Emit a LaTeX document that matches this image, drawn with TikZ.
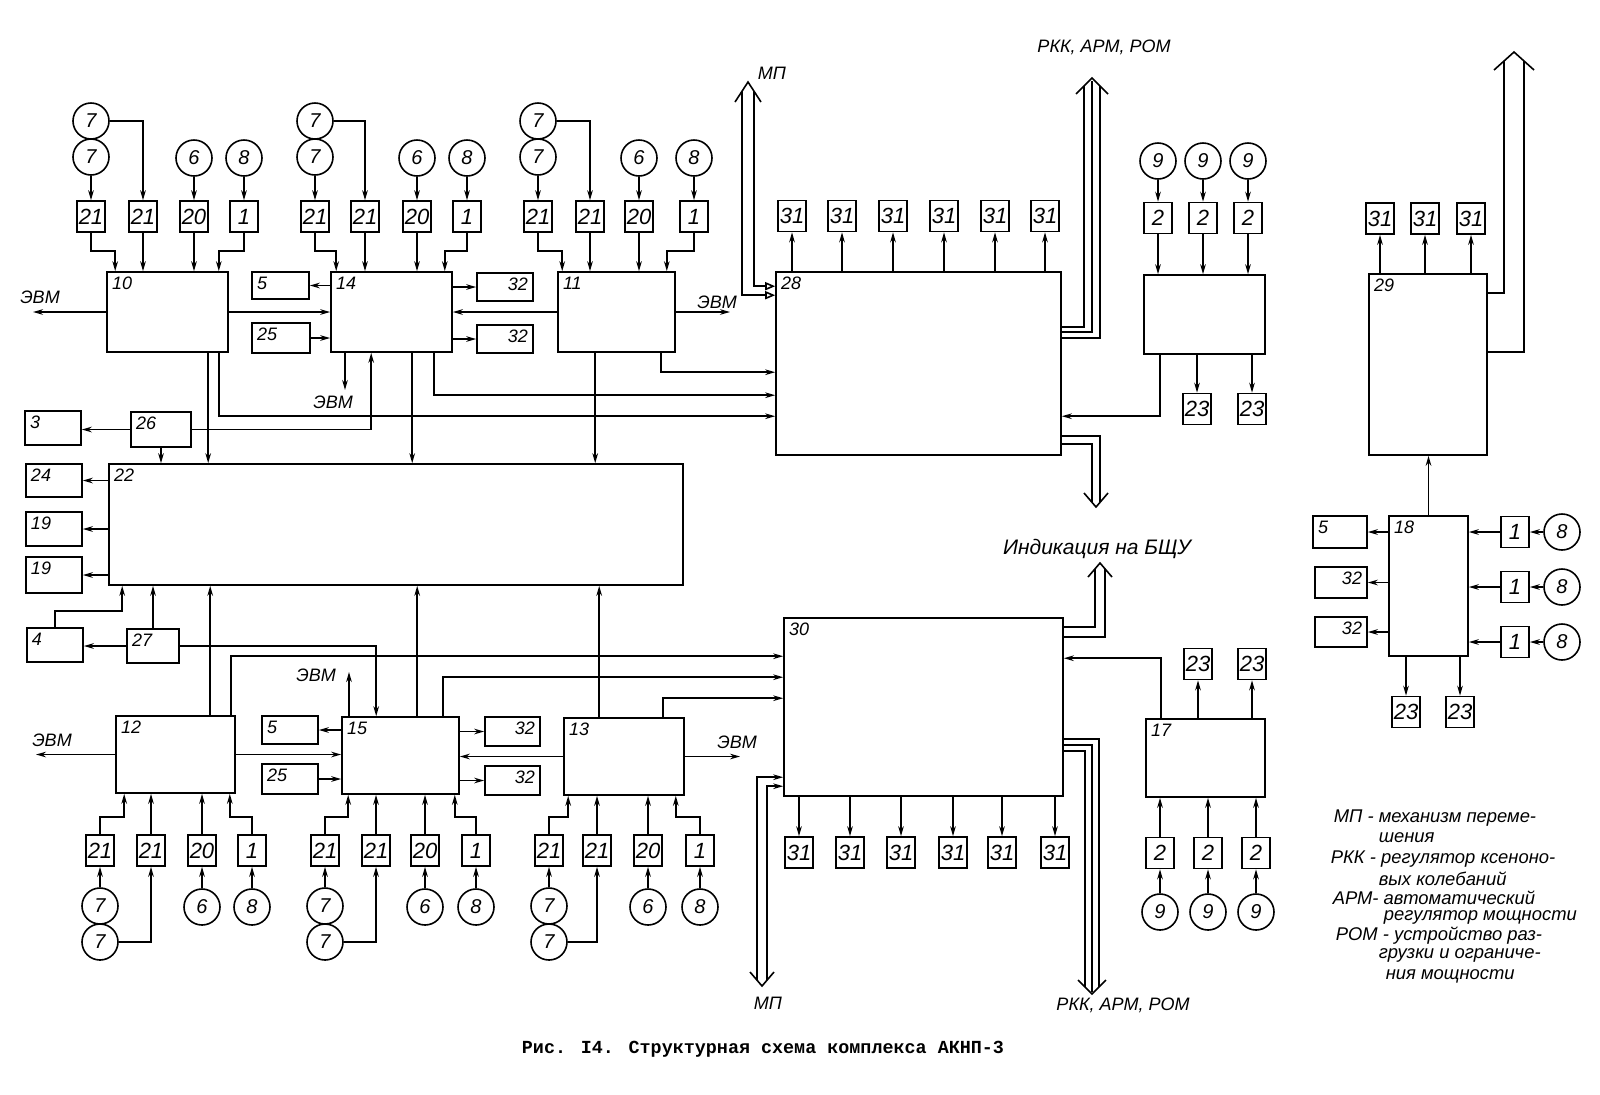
\documentclass[tikz,border=0pt]{standalone}
\usepackage{fontspec}
\setmainfont{Liberation Sans}
\newfontfamily\typefont{Liberation Mono}
\usetikzlibrary{positioning}
\usetikzlibrary{calc}
\usetikzlibrary{arrows.meta}

\tikzset{
	blk/.style={rectangle,draw,inner sep=0pt},
	sz/.style 2 args={minimum width=#1*0.5pt,minimum height=#2*0.5pt},
	lnum/.style={font=\itshape\fontsize{9}{9}\selectfont,inner sep=2.5pt},
	tl/.style={label={[lnum,anchor=north west]north west:#1}},
	tr/.style={label={[lnum,anchor=north east]north east:#1}},
	sbox/.style={rectangle,draw,inner sep=0pt,minimum width=14pt,minimum height=15.5pt,font=\itshape\fontsize{11}{11}\selectfont},
	circ/.style={circle,draw,inner sep=0pt,minimum size=18pt,font=\itshape\fontsize{10}{10}\selectfont},
	lbl/.style={font=\itshape\fontsize{9}{9}\selectfont,inner sep=0pt},
	note/.style={font=\itshape\fontsize{9.2}{9.2}\selectfont,inner sep=0pt,anchor=west}
}

\begin{document}
\begin{tikzpicture}[x=0.5pt,y=-0.5pt,line width=0.8pt,>={Stealth[length=5pt,width=2.8pt]}]
	\useasboundingbox (0,0) rectangle (1600,1094);

	% big blocks
	\node[blk,sz={121}{80},tl=10] (b10) at (167.5,312) {};
	\node[blk,sz={121}{80},tl=14] (b14) at (391.5,312) {};
	\node[blk,sz={117}{80},tl=11] (b11) at (616.5,312) {};
	\node[blk,sz={285}{183},tl=28] (b28) at (918.5,363.5) {};
	\node[blk,sz={121}{79}] (bm) at (1204.5,314.5) {};
	\node[blk,sz={118}{181},tl=29] (b29) at (1428,364.5) {};
	\node[blk,sz={574}{121},tl=22] (b22) at (396,524.5) {};
	\node[blk,sz={119}{77},tl=12] (b12) at (175.5,754.5) {};
	\node[blk,sz={117}{77},tl=15] (b15) at (400.5,755.5) {};
	\node[blk,sz={120}{77},tl=13] (b13) at (624,756.5) {};
	\node[blk,sz={279}{178},tl=30] (b30) at (923.5,707) {};
	\node[blk,sz={119}{78},tl=17] (b17) at (1205.5,758) {};
	\node[blk,sz={79}{140},tl=18] (b18) at (1428.5,586) {};

	% side boxes
	\node[blk,sz={57}{27},tl=5] (a5) at (280.5,285.5) {};
	\node[blk,sz={58}{30},tl=25] (a25) at (281,338) {};
	\node[blk,sz={56}{28},tr=32] (a32) at (505,287) {};
	\node[blk,sz={56}{28},tr=32] (a32b) at (505,339) {};
	\node[blk,sz={56}{34},tl=3] (a3) at (53,428) {};
	\node[blk,sz={60}{35},tl=26] (a26) at (161,429.5) {};
	\node[blk,sz={56}{33},tl=24] (a24) at (54,480.5) {};
	\node[blk,sz={56}{34},tl=19] (a19) at (54,529) {};
	\node[blk,sz={56}{36},tl=19] (a19b) at (54,575) {};
	\node[blk,sz={56}{34},tl=4] (a4) at (55,645) {};
	\node[blk,sz={52}{34},tl=27] (a27) at (153,646) {};
	\node[blk,sz={56}{28},tl=5] (c5) at (290,730) {};
	\node[blk,sz={56}{30},tl=25] (c25) at (290,779) {};
	\node[blk,sz={55}{29},tr=32] (c32) at (512.5,731.5) {};
	\node[blk,sz={55}{29},tr=32] (c32b) at (512.5,780.5) {};
	\node[blk,sz={54}{32},tl=5] (d5) at (1340,532) {};
	\node[blk,sz={52}{31},tr=32] (d32) at (1341,582.5) {};
	\node[blk,sz={52}{30},tr=32] (d32b) at (1341,632) {};

	% group 10
	\node[circ] (s10a) at (91,121) {7};
	\node[circ] (s10b) at (91,157) {7};
	\node[circ] (s10c) at (194,158) {6};
	\node[circ] (s10d) at (244,158) {8};
	\node[sbox] (k10a) at (91,216.5) {21};
	\node[sbox] (k10b) at (143,216.5) {21};
	\node[sbox] (k10c) at (194,216.5) {20};
	\node[sbox] (k10d) at (244,216.5) {1};
	\draw[->] (s10b) -- (k10a);
	\draw[->] (s10a.east) -| (k10b);
	\draw[->] (s10c) -- (k10c);
	\draw[->] (s10d) -- (k10d);
	\draw[->] (k10a.south) -- ++(0,18) -| ($(b10.north west)+(9,0)$);
	\draw[->] (k10b) -- (k10b |- b10.north);
	\draw[->] (k10c) -- (k10c |- b10.north);
	\draw[->] (k10d.south) -- ++(0,18) -| ($(b10.north east)+(-10,0)$);

	% group 14
	\node[circ] (s14a) at (315,121) {7};
	\node[circ] (s14b) at (315,157) {7};
	\node[circ] (s14c) at (417,158) {6};
	\node[circ] (s14d) at (467,158) {8};
	\node[sbox] (k14a) at (315,216.5) {21};
	\node[sbox] (k14b) at (365,216.5) {21};
	\node[sbox] (k14c) at (417,216.5) {20};
	\node[sbox] (k14d) at (467,216.5) {1};
	\draw[->] (s14b) -- (k14a);
	\draw[->] (s14a.east) -| (k14b);
	\draw[->] (s14c) -- (k14c);
	\draw[->] (s14d) -- (k14d);
	\draw[->] (k14a.south) -- ++(0,18) -| ($(b14.north west)+(6,0)$);
	\draw[->] (k14b) -- (k14b |- b14.north);
	\draw[->] (k14c) -- (k14c |- b14.north);
	\draw[->] (k14d.south) -- ++(0,18) -| ($(b14.north east)+(-8,0)$);

	% group 11
	\node[circ] (s11a) at (538,121) {7};
	\node[circ] (s11b) at (538,157) {7};
	\node[circ] (s11c) at (639,158) {6};
	\node[circ] (s11d) at (694,158) {8};
	\node[sbox] (k11a) at (538,216.5) {21};
	\node[sbox] (k11b) at (590,216.5) {21};
	\node[sbox] (k11c) at (639,216.5) {20};
	\node[sbox] (k11d) at (694,216.5) {1};
	\draw[->] (s11b) -- (k11a);
	\draw[->] (s11a.east) -| (k11b);
	\draw[->] (s11c) -- (k11c);
	\draw[->] (s11d) -- (k11d);
	\draw[->] (k11a.south) -- ++(0,18) -| ($(b11.north west)+(5,0)$);
	\draw[->] (k11b) -- (k11b |- b11.north);
	\draw[->] (k11c) -- (k11c |- b11.north);
	\draw[->] (k11d.south) -- ++(0,18) -| ($(b11.north east)+(-9,0)$);

	% links of the upper row
	\draw[->] (b10.east) -- (b10.east -| b14.west);
	\draw[->] (b11.west) -- (b11.west -| b14.east);
	\draw[->] (b14.west |- a5) -- (a5.east);
	\draw[->] (a25.east) -- (a25.east -| b14.west);
	\draw[->] (b14.east |- a32) -- (a32.west);
	\draw[->] (b14.east |- a32b) -- (a32b.west);
	\coordinate (e10) at (33,312);
	\coordinate (e11) at (730,312);
	\coordinate (e14) at (345,390);
	\draw[->] (b10.west) -- (e10);
	\draw[->] (b11.east) -- (e11);
	\draw[->] (e14 |- b14.south) -- (e14);
	\node[lbl] (v10) at (40,297) {ЭВМ};
	\node[lbl] (v11) at (717,302) {ЭВМ};
	\node[lbl] (v14) at (333,402) {ЭВМ};

	\draw[->] ($(b10.south west)+(102,0)$) coordinate (p) -- (p |- b22.north);
	\draw[->] ($(b14.south west)+(82,0)$) coordinate (p) -- (p |- b22.north);
	\draw[->] ($(b11.south west)+(38,0)$) coordinate (p) -- (p |- b22.north);
	\draw[->] (a26) -- (a26 |- b22.north);
	\draw[->] (a26.west) -- (a26.west -| a3.east);
	\draw[->] (a26.east) -| ($(b14.south west)+(41,0)$);
	\draw[->] ($(b10.south west)+(113,0)$) |- ($(b28.north west)+(0,145)$);
	\draw[->] ($(b14.south west)+(104,0)$) |- ($(b28.north west)+(0,124)$);
	\draw[->] ($(b11.south west)+(104,0)$) |- ($(b28.north west)+(0,101)$);

	% around 22
	\draw[->] (b22.west |- a24) -- (a24.east);
	\draw[->] (b22.west |- a19) -- (a19.east);
	\draw[->] (b22.west |- a19b) -- (a19b.east);
	\draw[->] (a4.north) -- ++(0,-16) -| ($(b22.south west)+(14,0)$);
	\draw[->] (a27) -- (a27 |- b22.south);
	\draw[->] (a27.west) -- (a27.west -| a4.east);
	\draw[->] (a27.east) -| ($(b15.north west)+(35,0)$);

	% links of the lower row
	\draw[->] ($(b12.north west)+(95,0)$) coordinate (p) -- (p |- b22.south);
	\draw[->] ($(b15.north west)+(76,0)$) coordinate (p) -- (p |- b22.south);
	\draw[->] ($(b13.north west)+(36,0)$) coordinate (p) -- (p |- b22.south);
	\draw[->] ($(b12.north west)+(116,0)$) |- ($(b30.north west)+(0,39)$);
	\draw[->] ($(b15.north west)+(102,0)$) |- ($(b30.north west)+(0,60)$);
	\draw[->] ($(b13.north west)+(100,0)$) |- ($(b30.north west)+(0,81)$);
	\coordinate (e12) at (36,754.5);
	\coordinate (e15) at (349,672);
	\coordinate (e13) at (740,756.5);
	\draw[->] (b12.west) -- (e12);
	\draw[->] (e15 |- b15.north) -- (e15);
	\draw[->] (b13.east) -- (e13);
	\node[lbl] (v12) at (52,740) {ЭВМ};
	\node[lbl] (v15) at (316,675) {ЭВМ};
	\node[lbl] (v13) at (737,742) {ЭВМ};
	\draw[->] (b12.east) -- (b12.east -| b15.west);
	\draw[->] (b13.west) -- (b13.west -| b15.east);
	\draw[->] (b15.west |- c5) -- (c5.east);
	\draw[->] (c25.east) -- (c25.east -| b15.west);
	\draw[->] (b15.east |- c32) -- (c32.west);
	\draw[->] (b15.east |- c32b) -- (c32b.west);

	% group 12
	\node[circ] (t12a) at (100,906) {7};
	\node[circ] (t12b) at (100,942) {7};
	\node[circ] (t12c) at (202,907) {6};
	\node[circ] (t12d) at (252,907) {8};
	\node[sbox] (m12a) at (100,850.5) {21};
	\node[sbox] (m12b) at (151,850.5) {21};
	\node[sbox] (m12c) at (202,850.5) {20};
	\node[sbox] (m12d) at (252,850.5) {1};
	\draw[->] (t12a) -- (m12a);
	\draw[->] (t12b.east) -| (m12b);
	\draw[->] (t12c) -- (m12c);
	\draw[->] (t12d) -- (m12d);
	\draw[->] (m12a.north) -- ++(0,-17) -| ($(b12.south west)+(9,0)$);
	\draw[->] (m12b) -- (m12b |- b12.south);
	\draw[->] (m12c) -- (m12c |- b12.south);
	\draw[->] (m12d.north) -- ++(0,-17) -| ($(b12.south east)+(-6,0)$);

	% group 15
	\node[circ] (t15a) at (325,906) {7};
	\node[circ] (t15b) at (325,942) {7};
	\node[circ] (t15c) at (425,907) {6};
	\node[circ] (t15d) at (476,907) {8};
	\node[sbox] (m15a) at (325,850.5) {21};
	\node[sbox] (m15b) at (376,850.5) {21};
	\node[sbox] (m15c) at (425,850.5) {20};
	\node[sbox] (m15d) at (476,850.5) {1};
	\draw[->] (t15a) -- (m15a);
	\draw[->] (t15b.east) -| (m15b);
	\draw[->] (t15c) -- (m15c);
	\draw[->] (t15d) -- (m15d);
	\draw[->] (m15a.north) -- ++(0,-17) -| ($(b15.south west)+(7,0)$);
	\draw[->] (m15b) -- (m15b |- b15.south);
	\draw[->] (m15c) -- (m15c |- b15.south);
	\draw[->] (m15d.north) -- ++(0,-17) -| ($(b15.south east)+(-5,0)$);

	% group 13
	\node[circ] (t13a) at (549,906) {7};
	\node[circ] (t13b) at (549,942) {7};
	\node[circ] (t13c) at (648,907) {6};
	\node[circ] (t13d) at (700,907) {8};
	\node[sbox] (m13a) at (549,850.5) {21};
	\node[sbox] (m13b) at (597,850.5) {21};
	\node[sbox] (m13c) at (648,850.5) {20};
	\node[sbox] (m13d) at (700,850.5) {1};
	\draw[->] (t13a) -- (m13a);
	\draw[->] (t13b.east) -| (m13b);
	\draw[->] (t13c) -- (m13c);
	\draw[->] (t13d) -- (m13d);
	\draw[->] (m13a.north) -- ++(0,-17) -| ($(b13.south west)+(5,0)$);
	\draw[->] (m13b) -- (m13b |- b13.south);
	\draw[->] (m13c) -- (m13c |- b13.south);
	\draw[->] (m13d.north) -- ++(0,-17) -| ($(b13.south east)+(-9,0)$);

	% 31 over 28
	\node[sbox] (u1) at (792,216) {31};
	\node[sbox] (u2) at (842,216) {31};
	\node[sbox] (u3) at (893,216) {31};
	\node[sbox] (u4) at (944,216) {31};
	\node[sbox] (u5) at (995,216) {31};
	\node[sbox] (u6) at (1045,216) {31};
	\draw[->] (u1 |- b28.north) -- (u1);
	\draw[->] (u2 |- b28.north) -- (u2);
	\draw[->] (u3 |- b28.north) -- (u3);
	\draw[->] (u4 |- b28.north) -- (u4);
	\draw[->] (u5 |- b28.north) -- (u5);
	\draw[->] (u6 |- b28.north) -- (u6);

	% 9 - 2 - block - 23
	\node[circ] (n1) at (1158,161) {9};
	\node[circ] (n2) at (1203,161) {9};
	\node[circ] (n3) at (1248,161) {9};
	\node[sbox] (q1) at (1158,218) {2};
	\node[sbox] (q2) at (1203,218) {2};
	\node[sbox] (q3) at (1248,218) {2};
	\node[sbox] (r1) at (1197,409) {23};
	\node[sbox] (r2) at (1252,409) {23};
	\draw[->] (n1) -- (q1);
	\draw[->] (n2) -- (q2);
	\draw[->] (n3) -- (q3);
	\draw[->] (q1) -- (q1 |- bm.north);
	\draw[->] (q2) -- (q2 |- bm.north);
	\draw[->] (q3) -- (q3 |- bm.north);
	\draw[->] (r1 |- bm.south) -- (r1);
	\draw[->] (r2 |- bm.south) -- (r2);
	\draw[->] ($(bm.south west)+(17,0)$) |- ($(b28.north east)+(0,145)$);

	% 29 and 18
	\node[sbox] (w1) at (1380,218.5) {31};
	\node[sbox] (w2) at (1425,218.5) {31};
	\node[sbox] (w3) at (1471,218.5) {31};
	\draw[->] (w1 |- b29.north) -- (w1);
	\draw[->] (w2 |- b29.north) -- (w2);
	\draw[->] (w3 |- b29.north) -- (w3);
	\draw[->] (b18.north) -- (b18.north |- b29.south);
	\node[circ] (o1) at (1562,532) {8};
	\node[circ] (o2) at (1562,587) {8};
	\node[circ] (o3) at (1562,642) {8};
	\node[sbox] (h1) at (1515,532) {1};
	\node[sbox] (h2) at (1515,587) {1};
	\node[sbox] (h3) at (1515,642) {1};
	\node[sbox] (x1) at (1406,712) {23};
	\node[sbox] (x2) at (1460,712) {23};
	\draw[->] (o1) -- (h1);
	\draw[->] (o2) -- (h2);
	\draw[->] (o3) -- (h3);
	\draw[->] (h1) -- (h1 -| b18.east);
	\draw[->] (h2) -- (h2 -| b18.east);
	\draw[->] (h3) -- (h3 -| b18.east);
	\draw[->] (b18.west |- d5) -- (d5.east);
	\draw[->] (b18.west |- d32) -- (d32.east);
	\draw[->] (b18.west |- d32b) -- (d32b.east);
	\draw[->] (x1 |- b18.south) -- (x1);
	\draw[->] (x2 |- b18.south) -- (x2);

	% 31 under 30
	\node[sbox] (y1) at (799,852.5) {31};
	\node[sbox] (y2) at (850,852.5) {31};
	\node[sbox] (y3) at (901,852.5) {31};
	\node[sbox] (y4) at (953,852.5) {31};
	\node[sbox] (y5) at (1002,852.5) {31};
	\node[sbox] (y6) at (1055,852.5) {31};
	\draw[->] (y1 |- b30.south) -- (y1);
	\draw[->] (y2 |- b30.south) -- (y2);
	\draw[->] (y3 |- b30.south) -- (y3);
	\draw[->] (y4 |- b30.south) -- (y4);
	\draw[->] (y5 |- b30.south) -- (y5);
	\draw[->] (y6 |- b30.south) -- (y6);

	% 17
	\node[sbox] (z1) at (1198,664) {23};
	\node[sbox] (z2) at (1252,664) {23};
	\node[sbox] (f1) at (1160,853) {2};
	\node[sbox] (f2) at (1208,853) {2};
	\node[sbox] (f3) at (1256,853) {2};
	\node[circ] (g1) at (1160,912) {9};
	\node[circ] (g2) at (1208,912) {9};
	\node[circ] (g3) at (1256,912) {9};
	\draw[->] (g1) -- (f1);
	\draw[->] (g2) -- (f2);
	\draw[->] (g3) -- (f3);
	\draw[->] (f1) -- (f1 |- b17.south);
	\draw[->] (f2) -- (f2 |- b17.south);
	\draw[->] (f3) -- (f3 |- b17.south);
	\draw[->] (z1 |- b17.north) -- (z1);
	\draw[->] (z2 |- b17.north) -- (z2);
	\draw[->] ($(b17.north west)+(16,0)$) |- ($(b30.north east)+(0,41)$);

	% buses
	\coordinate (mpt) at (748,82);
	\draw[-{Triangle[open,length=5pt,width=4pt]}] ($(mpt)+(-6,9)$) |- ($(b28.north west)+(0,24)$);
	\draw[-{Triangle[open,length=5pt,width=4pt]}] ($(mpt)+(6,9)$) |- ($(b28.north west)+(0,15)$);
	\draw ($(mpt)+(-13,20)$) -- (mpt) -- ($(mpt)+(13,20)$);
	\node[lbl] (lmp1) at (772,73) {МП};

	\coordinate (rkt) at (1092,78);
	\draw ($(b28.north east)+(0,56)$) -| ($(rkt)+(-8,8)$);
	\draw ($(b28.north east)+(0,61)$) -| ($(rkt)+(0,3)$);
	\draw ($(b28.north east)+(0,67)$) -| ($(rkt)+(8,8)$);
	\draw ($(rkt)+(-16,16)$) -- (rkt) -- ($(rkt)+(16,16)$);
	\node[lbl] (lrk1) at (1104,47) {РКК, АРМ, РОМ};

	\coordinate (bt) at (1096,507);
	\draw ($(b28.north east)+(0,165)$) -| ($(bt)+(4,-5)$);
	\draw ($(b28.north east)+(0,173)$) -| ($(bt)+(-4,-5)$);
	\draw ($(bt)+(-12,-14)$) -- (bt) -- ($(bt)+(12,-14)$);

	\coordinate (zt) at (1514,52);
	\draw ($(b29.north east)+(0,20)$) -| ($(zt)+(-10,9)$);
	\draw ($(b29.north east)+(0,79)$) -| ($(zt)+(10,9)$);
	\draw ($(zt)+(-20,18)$) -- (zt) -- ($(zt)+(20,18)$);

	\coordinate (it) at (1100,563);
	\draw ($(b30.north east)+(0,10)$) -| ($(it)+(-5,6)$);
	\draw ($(b30.north east)+(0,20)$) -| ($(it)+(5,6)$);
	\draw ($(it)+(-12,14)$) -- (it) -- ($(it)+(12,14)$);
	\node[lbl,font=\itshape\fontsize{10.5}{10.5}\selectfont] (lind) at (1097,549) {Индикация на БЩУ};

	\coordinate (mt) at (762,986);
	\draw[->] ($(mt)+(-5,-6)$) |- ($(b30.north west)+(0,160)$);
	\draw[->] ($(mt)+(5,-6)$) |- ($(b30.north west)+(0,169)$);
	\draw ($(mt)+(-12,-14)$) -- (mt) -- ($(mt)+(12,-14)$);
	\node[lbl] (lmp2) at (768,1003) {МП};

	\coordinate (rt) at (1092,994);
	\draw ($(b30.north east)+(0,122)$) -| ($(rt)+(7,-7)$);
	\draw ($(b30.north east)+(0,128)$) -| ($(rt)+(0,-2)$);
	\draw ($(b30.north east)+(0,134)$) -| ($(rt)+(-7,-7)$);
	\draw ($(rt)+(-14,-14)$) -- (rt) -- ($(rt)+(14,-14)$);
	\node[lbl] (lrk2) at (1123,1005) {РКК, АРМ, РОМ};

	% legend
	\node[note] (leg1) at (1333,818) {МП - механизм переме-};
	\node[note] (leg2) at (1378,838) {шения};
	\node[note] (leg3) at (1330,859) {РКК - регулятор ксеноно-};
	\node[note] (leg4) at (1378,879) {вых колебаний};
	\node[note] (leg5) at (1332,898) {АРМ- автоматический};
	\node[note] (leg6) at (1383,917) {регулятор мощности};
	\node[note] (leg7) at (1335,936) {РОМ - устройство раз-};
	\node[note] (leg8) at (1378,955) {грузки и ограниче-};
	\node[note] (leg9) at (1385,976) {ния мощности};

	\node[font=\typefont\bfseries\fontsize{9.2}{11}\selectfont] (cap) at (763,1049) {Рис. I4. Структурная схема комплекса АКНП-3};
\end{tikzpicture}
\end{document}
